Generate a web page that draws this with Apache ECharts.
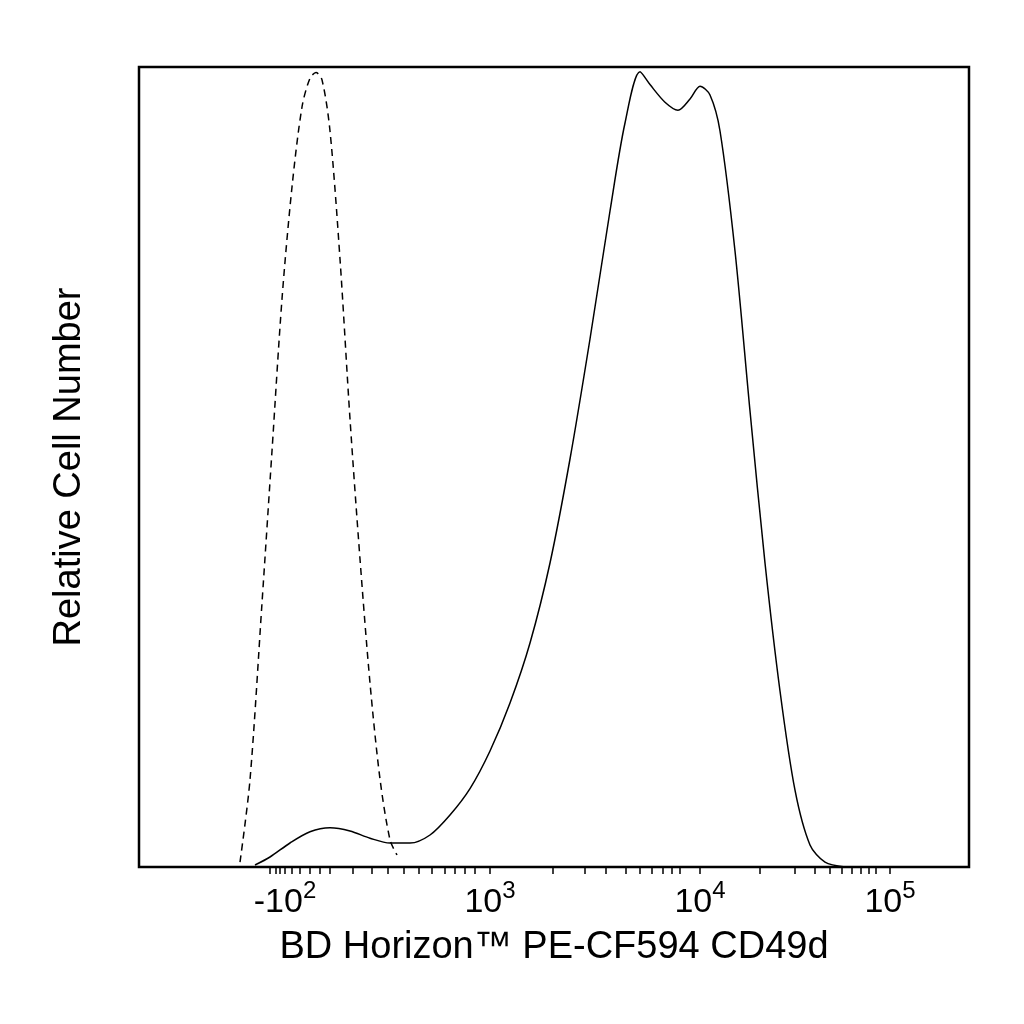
<!DOCTYPE html><html><head><meta charset="utf-8"><script src="https://cdn.jsdelivr.net/npm/echarts@6/dist/echarts.min.js"></script></head><body style="margin:0"><div id="c" style="width:1024px;height:1024px"></div><script>
// x in display-channel units (biexponential scale positions)
const dashedX=[240,250,262,272,282,292,302,310,316,322,330,340,350,360,370,380,390,397];
const dashedY=[0.6,10.9,33,52,71,85,95,98.6,99.3,98.4,92,76,56,38.5,23,11,3.4,1.5];
const solidX=[255,270,290,310,330,350,370,390,410,430,450,470,490,510,530,550,570,590,610,625,640,650,665,678,690,700,710,720,735,750,765,780,795,810,825,845];
const solidY=[0.25,1.25,3,4.4,4.9,4.5,3.6,3,3,4,6.5,9.8,14.5,20.5,28,38,51,66,82,93,99.4,97.8,95.6,94.6,96,97.6,96.5,92,77,57,38,22,9.6,2.75,0.6,0];
const tickPos=[285,490,700,890];
const tickLab=['-10{s|2}','10{s|3}','10{s|4}','10{s|5}'];
const minorPos=[270,276,280,292,300,310,320,330,353,372,388,404,419,432,445,455,465,475,553,585,606,626,640,652,663,672,680,760,795,815,830,842,852,861,869,876];
const ch=echarts.init(document.getElementById('c'));
ch.setOption({animation:false,
grid:{left:139,right:55,top:67,bottom:157,show:true,borderColor:'#000',borderWidth:2.5,backgroundColor:'#fff'},
xAxis:{type:'value',min:139,max:969,name:'BD Horizon™ PE-CF594 CD49d',nameLocation:'middle',nameGap:62,
 nameTextStyle:{fontFamily:'Liberation Sans',fontSize:38,color:'#000'},
 axisLine:{show:false},splitLine:{show:false},
 axisTick:{show:true,customValues:tickPos.concat(minorPos),length:7,lineStyle:{color:'#000',width:1.5}},
 axisLabel:{customValues:tickPos,margin:12,fontFamily:'Liberation Sans',fontSize:34,color:'#000',
  formatter:(v)=>tickLab[tickPos.indexOf(v)],rich:{s:{fontSize:24,verticalAlign:'top',padding:[0,0,24,0],fontFamily:'Liberation Sans',color:'#000'}}}},
yAxis:{type:'value',min:0,max:100,name:'Relative Cell Number',nameLocation:'middle',nameGap:50,
 nameTextStyle:{fontFamily:'Liberation Sans',fontSize:38,color:'#000'},
 axisLine:{show:false},axisTick:{show:false},axisLabel:{show:false},splitLine:{show:false}},
series:[
{type:'line',showSymbol:false,smooth:0.3,data:dashedX.map((x,i)=>[x,dashedY[i]]),lineStyle:{color:'#000',width:1.5,type:[7,5]}},
{type:'line',showSymbol:false,smooth:0.3,data:solidX.map((x,i)=>[x,solidY[i]]),lineStyle:{color:'#000',width:1.5}}
]});
</script></body></html>
